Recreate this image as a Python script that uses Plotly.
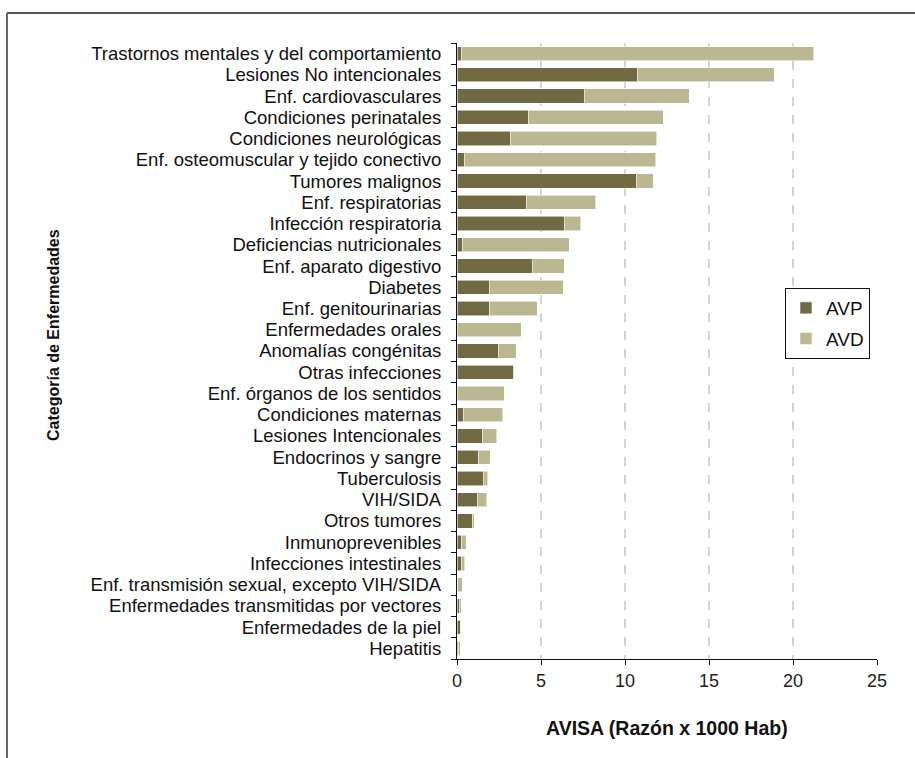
import plotly.graph_objects as go

categories = [
    "Trastornos mentales y del comportamiento",
    "Lesiones No intencionales",
    "Enf. cardiovasculares",
    "Condiciones perinatales",
    "Condiciones neurológicas",
    "Enf. osteomuscular y tejido conectivo",
    "Tumores malignos",
    "Enf. respiratorias",
    "Infección respiratoria",
    "Deficiencias nutricionales",
    "Enf. aparato digestivo",
    "Diabetes",
    "Enf. genitourinarias",
    "Enfermedades orales",
    "Anomalías congénitas",
    "Otras infecciones",
    "Enf. órganos de los sentidos",
    "Condiciones maternas",
    "Lesiones Intencionales",
    "Endocrinos y sangre",
    "Tuberculosis",
    "VIH/SIDA",
    "Otros tumores",
    "Inmunoprevenibles",
    "Infecciones intestinales",
    "Enf. transmisión sexual, excepto VIH/SIDA",
    "Enfermedades transmitidas por vectores",
    "Enfermedades de la piel",
    "Hepatitis",
]

avp = [0.24, 10.75, 7.58, 4.28, 3.17, 0.46, 10.67, 4.14, 6.39, 0.30,
       4.51, 1.92, 1.94, 0.0, 2.45, 3.37, 0.0, 0.38, 1.54, 1.29,
       1.56, 1.21, 0.95, 0.24, 0.24, 0.04, 0.12, 0.20, 0.10]

avd = [21.00, 8.13, 6.24, 8.01, 8.73, 11.36, 1.01, 4.11, 0.99, 6.37,
       1.88, 4.41, 2.83, 3.82, 1.07, 0.04, 2.81, 2.33, 0.84, 0.70,
       0.28, 0.57, 0.08, 0.31, 0.22, 0.28, 0.14, 0.02, 0.10]

x_ticks = [0, 5, 10, 15, 20, 25]

FONT = "Liberation Sans, Arial, sans-serif"
C_AVP = "#706941"
C_AVD = "#bbb793"

fig = go.Figure()
fig.add_trace(go.Bar(
    y=categories, x=avp, orientation="h", name="AVP",
    marker=dict(color=C_AVP, line=dict(color="rgba(255,255,255,0.7)", width=0.8)),
    legendgroup="a",
))
fig.add_trace(go.Bar(
    y=categories, x=avd, orientation="h", name="AVD",
    marker=dict(color=C_AVD, line=dict(color="rgba(255,255,255,0.7)", width=0.8)),
    legendgroup="b",
))

W, H = 915, 758
# screen coordinates of plot area (page body margin removed below)
SX0, SX1, SY0, SY1 = 457, 877, 43, 659
L = SX0
T = SY0
pw, ph = SX1 - SX0, SY1 - SY0
R = W - L - pw
B = H - T - ph


def px_x(px):
    return (px - SX0) / pw


def px_y(py):
    return (SY1 - py) / ph


fig.update_layout(
    width=W, height=H,
    margin=dict(l=L, r=R, t=T, b=B, pad=0),
    paper_bgcolor="white", plot_bgcolor="white",
    barmode="stack", bargap=0.33,
    font=dict(family=FONT, color="#111111"),
    showlegend=True,
    legend=dict(
        x=px_x(785), y=px_y(288), xanchor="left", yanchor="top",
        bordercolor="#111111", borderwidth=1, bgcolor="white",
        font=dict(size=19, family=FONT, color="#111111"),
        traceorder="grouped", tracegroupgap=3,
        itemwidth=30,
    ),
    xaxis=dict(
        range=[0, 25], tickvals=x_ticks, ticktext=[str(v) for v in x_ticks],
        showline=True, linecolor="#111111", linewidth=1.2,
        ticks="outside", ticklen=5, tickcolor="#111111",
        showgrid=True, gridcolor="#d4d4d4", griddash="dash", gridwidth=1.5,
        zeroline=False,
        tickfont=dict(size=18, family=FONT, color="#222222"),
    ),
    yaxis=dict(
        autorange="reversed",
        tickmode="array", tickvals=categories, ticktext=categories,
        showline=True, linecolor="#111111", linewidth=1.2,
        ticks="outside", ticklen=5, tickcolor="#111111", tickson="boundaries",
        showgrid=False, zeroline=False,
        tickfont=dict(size=18.5, family=FONT, color="#111111"),
        ticklabelstandoff=11,
    ),
    annotations=[
        dict(text="<b>AVISA (Razón x 1000 Hab)</b>", xref="paper", yref="paper",
             x=0.5, y=px_y(728), xanchor="center", yanchor="middle",
             showarrow=False, font=dict(size=19.5, family=FONT, color="#111111")),
        dict(text="<b>Categoría de Enfermedades</b>", xref="paper", yref="paper",
             x=px_x(53), y=px_y(335), xanchor="center", yanchor="middle",
             textangle=-90, showarrow=False,
             font=dict(size=16, family=FONT, color="#111111")),
    ],
    shapes=[
        dict(type="line", xref="paper", yref="paper",
             x0=px_x(7), x1=px_x(7), y0=px_y(13), y1=px_y(780),
             line=dict(color="#666666", width=2)),
        dict(type="line", xref="paper", yref="paper",
             x0=px_x(7), x1=px_x(940), y0=px_y(13), y1=px_y(13),
             line=dict(color="#555555", width=2)),
    ],
)

fig.write_html("out.html", config={"displayModeBar": False},
               post_script="document.body.style.margin='0px';")
